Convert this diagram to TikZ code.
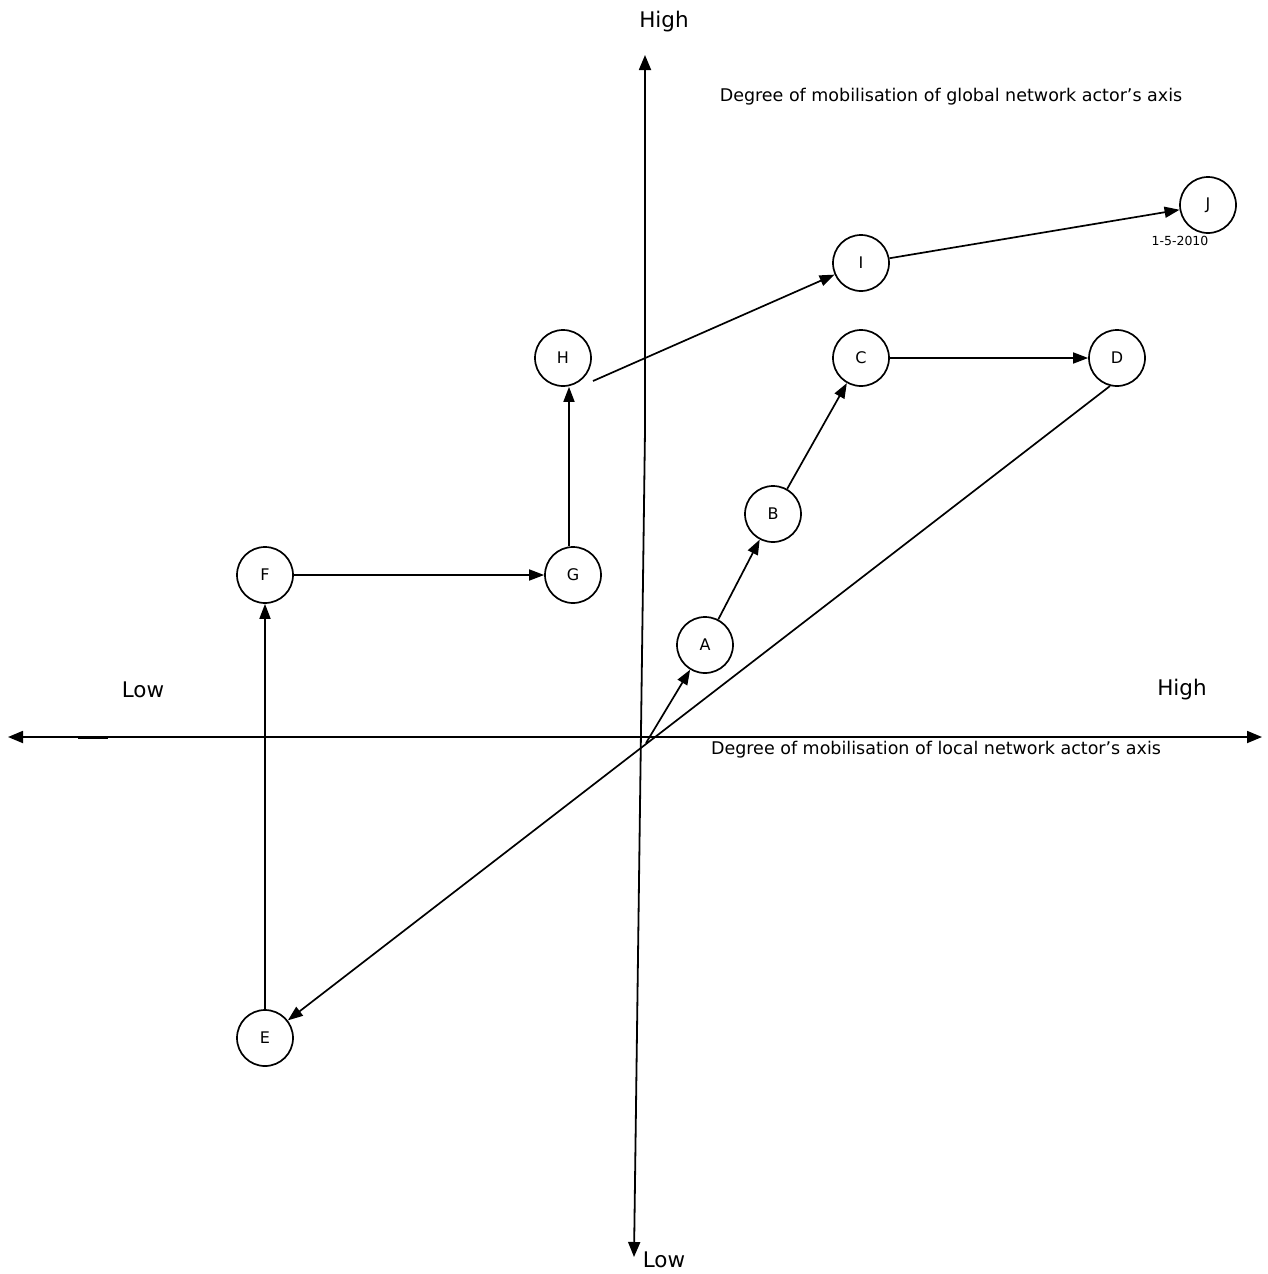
\documentclass[tikz,border=0pt]{standalone}
\usepackage{fontspec}
\setmainfont{DejaVu Sans}
\usetikzlibrary{arrows.meta}
\begin{document}
\begin{tikzpicture}[x=1pt,y=-1pt,
  state/.style={circle,draw,line width=1.7pt,minimum size=56pt,inner sep=0pt,font=\fontsize{16}{16}\selectfont},
  link/.style={line width=1.7pt,-{Triangle[length=15pt,width=11pt]}},
  axis/.style={line width=1.8pt,{Triangle[length=15pt,width=12pt]}-{Triangle[length=15pt,width=12pt]}},
  axislabel/.style={font=\fontsize{21.5}{21.5}\selectfont},
  axisnote/.style={font=\fontsize{17.5}{17.5}\selectfont}]
\useasboundingbox (0,0) rectangle (1267,1274);

% axes
\coordinate (xl) at (8,737);
\coordinate (xr) at (1262,737);
\coordinate (yt) at (645,55);
\coordinate (yk) at (645,430);
\coordinate (yb) at (634,1257);
\draw[axis] (xl) -- (xr);
\draw[line width=2.8pt] (78,738) -- (108,738);
\draw[line width=1.8pt,-{Triangle[length=15pt,width=12pt]}] (yk) -- (yt);
\draw[line width=1.8pt,-{Triangle[length=15pt,width=12pt]}] (yk) -- (yb);

\node[axislabel] (hightop) at (664,22) {High};
\node[axislabel] (lowbot) at (664,1260) {Low};
\node[axislabel] (lowleft) at (143,690) {Low};
\node[axislabel] (highright) at (1182,690) {High};
\node[axisnote] (gaxis) at (951,97) {Degree of mobilisation of global network actor’s axis};
\node[axisnote] (laxis) at (936,750) {Degree of mobilisation of local network actor’s axis};

% states
\node[state] (A) at (705,645) {A};
\node[state] (B) at (773,514) {B};
\node[state] (C) at (861,358) {C};
\node[state] (D) at (1117,358) {D};
\node[state] (E) at (265,1038) {E};
\node[state] (F) at (265,575) {F};
\node[state] (G) at (573,575) {G};
\node[state] (H) at (563,358) {H};
\node[state] (I) at (861,263) {I};
\node[state] (J) at (1208,205) {J};
\node[font=\fontsize{12.5}{12.5}\selectfont] (date) at (1180,241) {1-5-2010};

% transitions
\coordinate (o) at (646,743);
\coordinate (hs) at (593,381);
\draw[link] (o) -- (A);
\draw[link] (A) -- (B);
\draw[link] (B) -- (C);
\draw[link] (C) -- (D);
\draw[link] (D.256) -- (E);
\draw[link] (E) -- (F);
\draw[link] (F) -- (G);
\draw[link] ([xshift=-4pt]G.north) -- ([xshift=6pt]H.south);
\draw[link] (hs) -- (I);
\draw[link] (I) -- (J);
\end{tikzpicture}
\end{document}
